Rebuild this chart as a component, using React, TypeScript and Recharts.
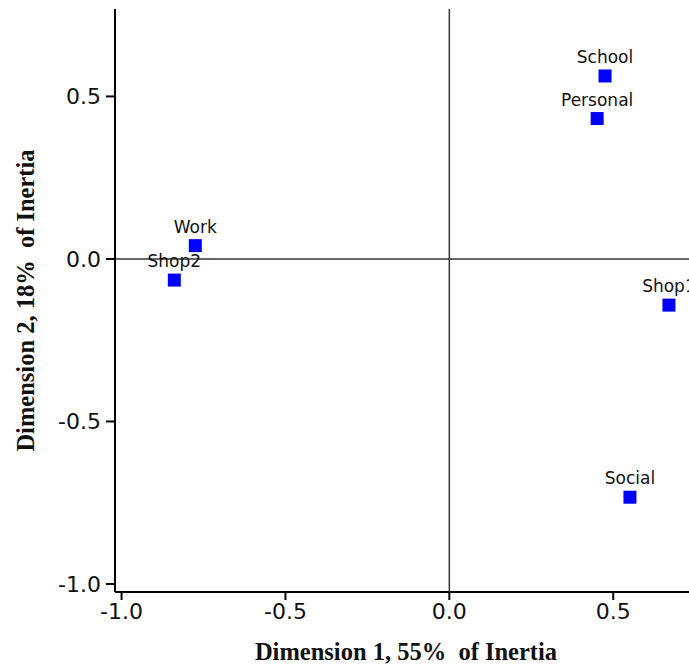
import React from 'react';
import { ScatterChart, Scatter, XAxis, YAxis, ReferenceLine, Label } from 'recharts';

const categories = ['School', 'Personal', 'Shop1', 'Social', 'Work', 'Shop2'];
const dim1 = [0.475, 0.451, 0.67, 0.551, -0.775, -0.839];
const dim2 = [0.563, 0.432, -0.142, -0.733, 0.041, -0.065];
const xTicks = [-1.0, -0.5, 0.0, 0.5];
const yTicks = [-1.0, -0.5, 0.0, 0.5];
const xTitle = 'Dimension 1, 55%  of Inertia';
const yTitle = 'Dimension 2, 18%  of Inertia';

const data = categories.map((name, i) => ({ name, x: dim1[i], y: dim2[i] }));

const tickStyle = { fill: '#111', fontSize: 22, fontFamily: 'DejaVu Sans' };
const titleStyle: React.CSSProperties = {
  fontFamily: 'Liberation Serif',
  fontWeight: 'bold',
  fontSize: 24.5,
  whiteSpace: 'pre',
};

const Marker = (props: any) => {
  const { cx, cy, payload } = props;
  return (
    <g>
      <rect x={cx - 6.5} y={cy - 6.5} width={13} height={13} fill="#0000ff" />
      <text
        x={cx}
        y={cy - 13}
        textAnchor="middle"
        fontSize={17}
        fontFamily="DejaVu Sans"
        fill="#111"
      >
        {payload.name}
      </text>
    </g>
  );
};

const XTitle = (props: any) => {
  const vb = props.viewBox || {};
  return (
    <text
      x={vb.x + vb.width / 2 - 4}
      y={vb.y + 59}
      textAnchor="middle"
      dominantBaseline="central"
      fill="#111"
      style={titleStyle}
    >
      {xTitle}
    </text>
  );
};

const YTitle = (props: any) => {
  const vb = props.viewBox || {};
  const cx = vb.x + 10;
  const cy = vb.y + vb.height / 2;
  return (
    <text
      x={cx}
      y={cy}
      textAnchor="middle"
      dominantBaseline="central"
      transform={`rotate(-90 ${cx} ${cy})`}
      fill="#111"
      style={titleStyle}
    >
      {yTitle}
    </text>
  );
};

export default function App() {
  return (
    <div style={{ width: 681, height: 658, overflow: 'hidden', background: '#fff' }}>
      <style>{'html,body{overflow:hidden;} body{margin:8px 0 0 8px;} #root{width:681px;}'}</style>
      <ScatterChart width={710} height={658} margin={{ top: 1, right: 13, bottom: 8, left: 7 }}>
        <XAxis
          type="number"
          dataKey="x"
          domain={[-1.02, 0.78]}
          ticks={xTicks}
          allowDataOverflow
          tickFormatter={(v: number) => v.toFixed(1)}
          tick={tickStyle}
          tickSize={8}
          tickMargin={3}
          height={66}
          stroke="#000"
          strokeWidth={2}
          tickLine={{ stroke: '#000', strokeWidth: 2 }}
        >
          <Label content={<XTitle />} />
        </XAxis>
        <XAxis
          xAxisId="top"
          orientation="top"
          type="number"
          domain={[-1.02, 0.78]}
          height={0}
          tick={false}
          tickLine={false}
          stroke="#000"
          strokeWidth={2}
        />
        <YAxis
          type="number"
          dataKey="y"
          domain={[-1.0246, 0.769]}
          ticks={yTicks}
          allowDataOverflow
          tickFormatter={(v: number) => v.toFixed(1)}
          tick={tickStyle}
          tickSize={9}
          tickMargin={5}
          width={100}
          stroke="#000"
          strokeWidth={2}
          tickLine={{ stroke: '#000', strokeWidth: 2 }}
        >
          <Label content={<YTitle />} />
        </YAxis>
        <ReferenceLine x={0} stroke="#333" strokeWidth={1.5} />
        <ReferenceLine y={0} stroke="#333" strokeWidth={1.5} />
        <Scatter data={data} shape={<Marker />} isAnimationActive={false} />
      </ScatterChart>
    </div>
  );
}
